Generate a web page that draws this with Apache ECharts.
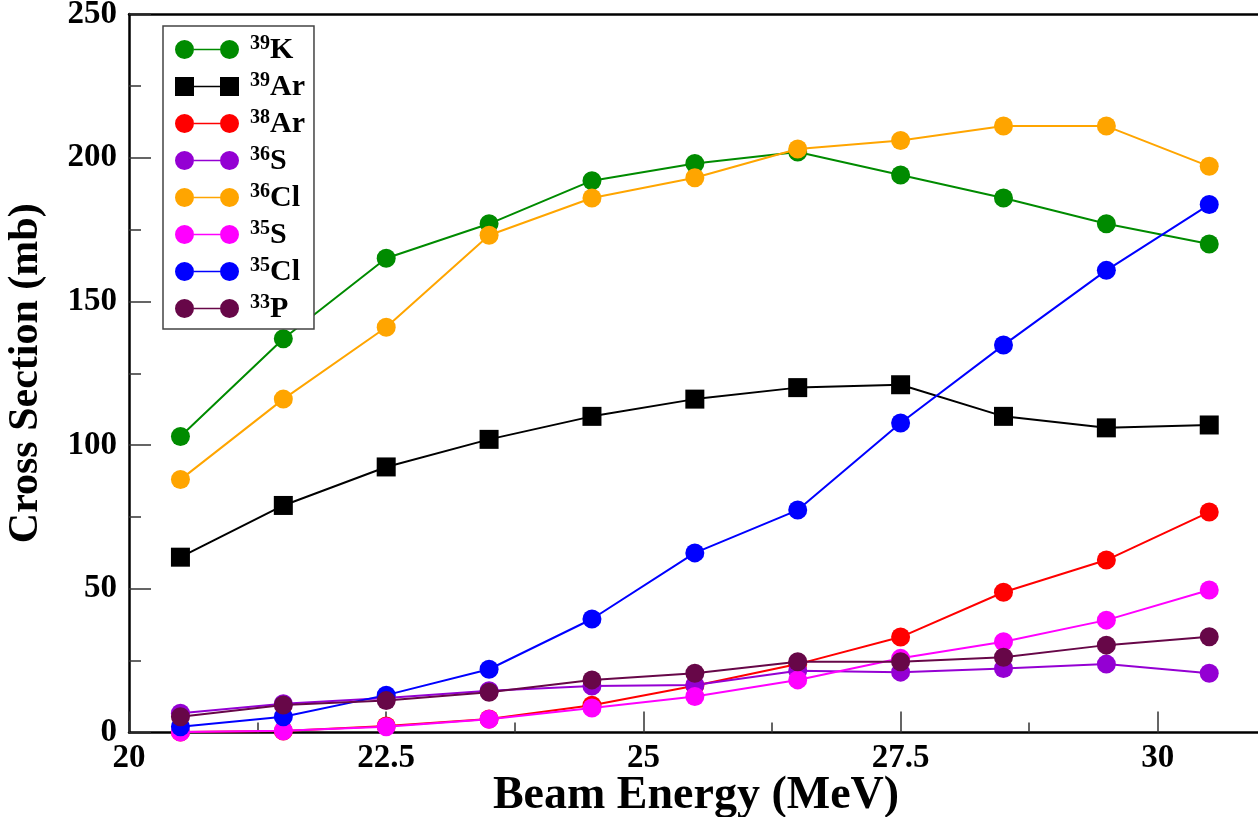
<!DOCTYPE html>
<html>
<head>
<meta charset="utf-8">
<script src="https://cdn.jsdelivr.net/npm/echarts@6/dist/echarts.min.js"></script>
<style>
html,body{margin:0;padding:0;background:#fff;}
#chart{width:1258px;height:817px;}
</style>
</head>
<body>
<div id="chart"></div>
<script>
// Beam energies (MeV)
const energies = [20.5, 21.5, 22.5, 23.5, 24.5, 25.5, 26.5, 27.5, 28.5, 29.5, 30.5];
// Cross sections (mb)
const k39  = [103, 137, 165, 177, 192, 198, 202, 194, 186, 177, 170];
const ar39 = [61, 79, 92.4, 102, 110, 116, 120, 121, 110, 106, 107];
const ar38 = [0.2, 0.5, 2.3, 4.7, 9.5, 16.3, 23.8, 33.2, 48.8, 60, 76.7];
const s36  = [6.7, 10, 12, 14.5, 16.2, 16.5, 21.5, 21, 22.3, 23.8, 20.6];
const cl36 = [88, 116, 141, 173, 186, 193, 203, 206, 211, 211, 197];
const s35  = [0.2, 0.6, 2, 4.6, 8.5, 12.5, 18.3, 25.8, 31.6, 39.1, 49.6];
const cl35 = [2, 5.5, 13, 22, 39.5, 62.5, 77.4, 107.7, 134.8, 160.8, 183.7];
const p33  = [5.5, 9.6, 11.1, 14, 18.3, 20.6, 24.6, 24.6, 26.2, 30.4, 33.3];

const massNumbers = ['39', '39', '38', '36', '36', '35', '35', '33'];
const elements    = ['K', 'Ar', 'Ar', 'S', 'Cl', 'S', 'Cl', 'P'];
const colors = ['#008b00', '#000000', '#ff0000', '#9400d3', '#ffa500', '#ff00ff', '#0000ff', '#670748'];
const seriesValues = [k39, ar39, ar38, s36, cl36, s35, cl35, p33];
const symbols = ['circle', 'rect', 'circle', 'circle', 'circle', 'circle', 'circle', 'circle'];

const xTicks = [20, 22.5, 25, 27.5, 30];
const yTicks = [0, 50, 100, 150, 200, 250];

const FONT = '"Liberation Serif", "DejaVu Serif", serif';

const circleIcon = 'path://M0,9.5a9.5,9.5 0 1,0 19,0a9.5,9.5 0 1,0 -19,0Z M19,8.7L45,8.7L45,10.3L19,10.3Z M45,9.5a9.5,9.5 0 1,0 19,0a9.5,9.5 0 1,0 -19,0Z';
const rectIcon = 'path://M0,0L19,0L19,19L0,19Z M19,8.7L45,8.7L45,10.3L19,10.3Z M45,0L64,0L64,19L45,19Z';

const names = massNumbers.map((m, i) => m + elements[i]);

const chart = echarts.init(document.getElementById('chart'), null, {renderer: 'canvas'});

const series = names.map((n, i) => ({
  name: n,
  type: 'line',
  xAxisIndex: 0,
  data: energies.map((e, j) => [e, seriesValues[i][j]]),
  symbol: symbols[i],
  symbolSize: 19,
  showSymbol: true,
  lineStyle: {color: colors[i], width: 2},
  itemStyle: {color: colors[i]},
  emphasis: {disabled: true},
  animation: false,
  z: 2 + i
}));

chart.setOption({
  animation: false,
  backgroundColor: '#ffffff',
  grid: {left: 129, top: 14, width: 1286, height: 718.5, containLabel: false, outerBoundsMode: 'none'},
  legend: {
    orient: 'vertical',
    left: 163,
    top: 26,
    padding: [8, 9, 5, 12],
    itemWidth: 64,
    itemHeight: 19,
    itemGap: 6,
    borderColor: '#444',
    borderWidth: 1.5,
    backgroundColor: '#fff',
    selectedMode: false,
    data: names.map((n, i) => ({name: n, icon: symbols[i] === 'rect' ? rectIcon : circleIcon, itemStyle: {color: colors[i]}})),
    formatter: function (name) {
      const i = names.indexOf(name);
      return '{sup|' + massNumbers[i] + '}{el|' + elements[i] + '}';
    },
    textStyle: {
      rich: {
        sup: {fontFamily: FONT, fontWeight: 'bold', fontSize: 20, color: '#000', verticalAlign: 'top', lineHeight: 31, padding: [0, 0, 0, 6]},
        el: {fontFamily: FONT, fontWeight: 'bold', fontSize: 30, color: '#000', lineHeight: 31, verticalAlign: 'bottom'}
      }
    }
  },
  xAxis: [{
    type: 'value',
    min: 20,
    max: 32.5,
    interval: 2.5,
    position: 'bottom',
    name: 'Beam Energy (MeV)',
    nameLocation: 'middle',
    nameGap: 41,
    nameMoveOverlap: false,
    nameTextStyle: {fontFamily: FONT, fontWeight: 'bold', fontSize: 46, color: '#000', padding: [0, 152, 0, 0]},
    axisLine: {show: true, onZero: false, lineStyle: {color: '#000', width: 2.5}},
    axisTick: {show: true, inside: true, length: 21, lineStyle: {color: '#333', width: 1.5}},
    minorTick: {show: true, splitNumber: 2, length: 10, lineStyle: {color: '#333', width: 1.5}},
    splitLine: {show: false},
    axisLabel: {
      margin: 9,
      fontFamily: FONT, fontWeight: 'bold', fontSize: 33, color: '#000',
      formatter: function (v) { return xTicks.indexOf(v) >= 0 ? String(v) : ''; }
    }
  }, {
    type: 'value',
    min: 20,
    max: 32.5,
    position: 'top',
    axisLine: {show: true, onZero: false, lineStyle: {color: '#000', width: 2.5}},
    axisTick: {show: false},
    axisLabel: {show: false},
    splitLine: {show: false}
  }],
  yAxis: {
    type: 'value',
    min: 0,
    max: 250,
    interval: 50,
    name: 'Cross Section (mb)',
    nameLocation: 'middle',
    nameGap: 82,
    nameMoveOverlap: false,
    nameTextStyle: {fontFamily: FONT, fontWeight: 'bold', fontSize: 42, color: '#000'},
    axisLine: {show: true, onZero: false, lineStyle: {color: '#000', width: 2.5}},
    axisTick: {show: true, inside: true, length: 22, lineStyle: {color: '#333', width: 1.5}},
    minorTick: {show: true, splitNumber: 2, length: 12, lineStyle: {color: '#333', width: 1.5}},
    splitLine: {show: false},
    axisLabel: {
      margin: 12,
      fontFamily: FONT, fontWeight: 'bold', fontSize: 33, color: '#000',
      formatter: function (v) { return yTicks.indexOf(v) >= 0 ? String(v) : ''; }
    }
  },
  series: series
});
</script>
</body>
</html>
